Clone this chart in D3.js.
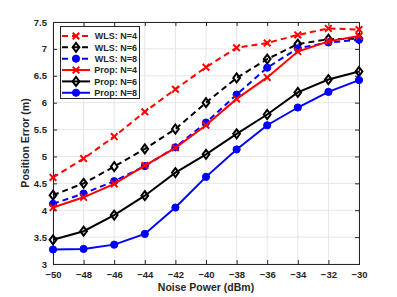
<!DOCTYPE html>
<html>
<head>
<meta charset="utf-8">
<script src="https://cdn.jsdelivr.net/npm/d3@7"></script>
<style>
  body { margin:0; background:#fff; }
  svg text { font-family: "Liberation Sans", Arial, sans-serif; font-weight: bold; fill:#262626; }
</style>
</head>
<body>
<svg id="chart" width="397" height="297"></svg>
<script>
// noise power (dBm)
var noise = [-50,-48,-46,-44,-42,-40,-38,-36,-34,-32,-30];
var xTicks = [-50,-48,-46,-44,-42,-40,-38,-36,-34,-32,-30];
var yTicks = [3,3.5,4,4.5,5,5.5,6,6.5,7,7.5];

var wlsN4  = [4.61,4.96,5.37,5.83,6.25,6.66,7.02,7.11,7.26,7.38,7.36];
var wlsN6  = [4.28,4.50,4.81,5.14,5.51,6.00,6.46,6.81,7.09,7.18,7.19];
var wlsN8  = [4.12,4.31,4.54,4.82,5.17,5.63,6.15,6.65,7.01,7.12,7.17];
var propN4 = [4.05,4.24,4.49,4.83,5.16,5.58,6.07,6.47,6.95,7.14,7.24];
var propN6 = [3.45,3.61,3.91,4.27,4.70,5.04,5.42,5.78,6.19,6.43,6.58];
var propN8 = [3.27,3.28,3.36,3.56,4.05,4.62,5.13,5.58,5.91,6.20,6.42];

var series = [
  {name:"WLS: N=4",  values:wlsN4,  color:"#ff0000", dash:"6,4", marker:"x"},
  {name:"WLS: N=6",  values:wlsN6,  color:"#000000", dash:"6,4", marker:"d"},
  {name:"WLS: N=8",  values:wlsN8,  color:"#0000ff", dash:"6,4", marker:"o"},
  {name:"Prop: N=4", values:propN4, color:"#ff0000", dash:null,  marker:"x"},
  {name:"Prop: N=6", values:propN6, color:"#000000", dash:null,  marker:"d"},
  {name:"Prop: N=8", values:propN8, color:"#0000ff", dash:null,  marker:"o"}
];

var svg = d3.select("#chart");
var m = {left:53, right:359, top:22, bottom:264};

var x = d3.scaleLinear().domain([-50,-30]).range([m.left, m.right]);
var y = d3.scaleLinear().domain([3,7.5]).range([m.bottom, m.top]);

// grid
svg.append("g").selectAll("line.gx").data(xTicks).enter().append("line")
  .attr("x1", d => x(d)).attr("x2", d => x(d))
  .attr("y1", m.top).attr("y2", m.bottom)
  .attr("stroke", "#e6e6e6").attr("stroke-width", 1);
svg.append("g").selectAll("line.gy").data(yTicks).enter().append("line")
  .attr("x1", m.left).attr("x2", m.right)
  .attr("y1", d => y(d)).attr("y2", d => y(d))
  .attr("stroke", "#e6e6e6").attr("stroke-width", 1);

// axes (ticks inward, box on)
var xAxis = svg.append("g").attr("transform", "translate(0," + m.bottom + ")")
  .call(d3.axisBottom(x).tickValues(xTicks).tickSize(-4).tickPadding(7).tickFormat(d3.format("d")));
var xTop = svg.append("g").attr("transform", "translate(0," + m.top + ")")
  .call(d3.axisTop(x).tickValues(xTicks).tickSize(-4).tickFormat(""));
var yAxis = svg.append("g").attr("transform", "translate(" + m.left + ",0)")
  .call(d3.axisLeft(y).tickValues(yTicks).tickSize(-4).tickPadding(6).tickFormat(d => d));
var yRight = svg.append("g").attr("transform", "translate(" + m.right + ",0)")
  .call(d3.axisRight(y).tickValues(yTicks).tickSize(-4).tickFormat(""));

[xAxis, xTop, yAxis, yRight].forEach(function(a){
  a.select(".domain").attr("stroke", "#262626").attr("stroke-width", 1);
  a.selectAll(".tick line").attr("stroke", "#262626");
  a.selectAll("text").style("font-size", "9.5px").attr("fill", "#262626");
});

// axis labels
svg.append("text").attr("x", (m.left + m.right)/2).attr("y", 291)
  .attr("text-anchor", "middle").style("font-size", "10.5px").text("Noise Power (dBm)");
svg.append("text").attr("transform", "translate(29," + ((m.top + m.bottom)/2) + ") rotate(-90)")
  .attr("text-anchor", "middle").style("font-size", "10.5px").text("Position Error (m)");

function drawMarker(g, type, color, cx, cy){
  if (type == "x") {
    var s = 3.3;
    g.append("path")
      .attr("d", "M" + (cx-s) + "," + (cy-s) + "L" + (cx+s) + "," + (cy+s) + "M" + (cx-s) + "," + (cy+s) + "L" + (cx+s) + "," + (cy-s))
      .attr("stroke", color).attr("stroke-width", 2).attr("fill", "none");
  } else if (type == "d") {
    var r = 4.5;
    g.append("path")
      .attr("d", "M" + cx + "," + (cy-r) + "L" + (cx+r*0.75) + "," + cy + "L" + cx + "," + (cy+r) + "L" + (cx-r*0.75) + "," + cy + "Z")
      .attr("stroke", color).attr("stroke-width", 2).attr("fill", "none");
  } else {
    g.append("circle").attr("cx", cx).attr("cy", cy).attr("r", 3.6)
      .attr("fill", color).attr("stroke", color).attr("stroke-width", 1);
  }
}

var line = d3.line().x((d,i) => x(noise[i])).y(d => y(d));

series.forEach(function(s){
  var g = svg.append("g");
  g.append("path").datum(s.values)
    .attr("d", line)
    .attr("fill", "none")
    .attr("stroke", s.color)
    .attr("stroke-width", 2)
    .attr("stroke-dasharray", s.dash);
  s.values.forEach(function(v, i){
    drawMarker(g, s.marker, s.color, x(noise[i]), y(v));
  });
});

// legend
var leg = svg.append("g");
leg.append("rect").attr("x", 60.5).attr("y", 26.5).attr("width", 79).attr("height", 72)
  .attr("fill", "#fff").attr("stroke", "#262626").attr("stroke-width", 1);
series.forEach(function(s, i){
  var ly = 36 + i * 11.35;
  leg.append("line").attr("x1", 62).attr("x2", 90).attr("y1", ly).attr("y2", ly)
    .attr("stroke", s.color).attr("stroke-width", 2).attr("stroke-dasharray", s.dash);
  drawMarker(leg, s.marker, s.color, 76, ly);
  leg.append("text").attr("x", 137).attr("y", ly + 3.3).attr("text-anchor", "end")
    .style("font-size", "9px").attr("fill", "#000").text(s.name);
});
</script>
</body>
</html>
